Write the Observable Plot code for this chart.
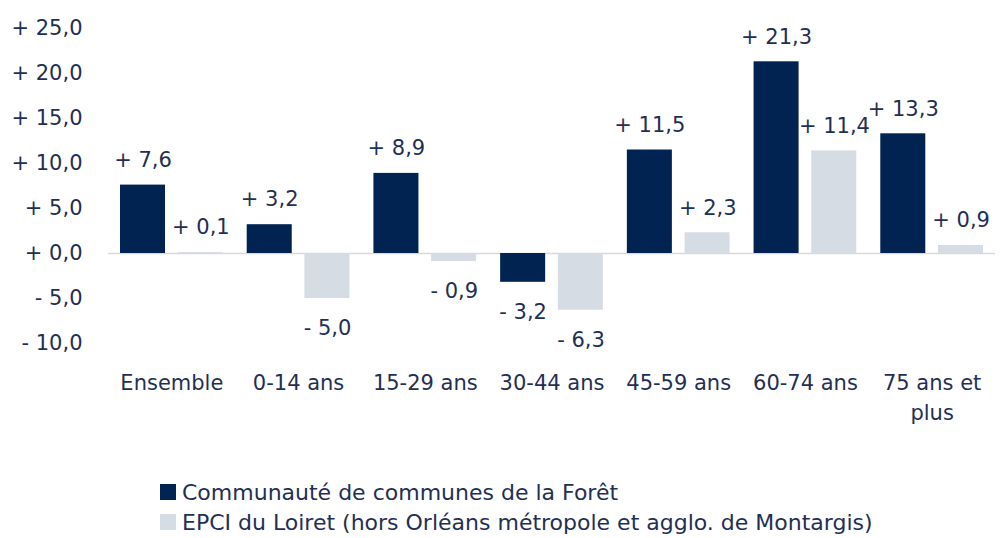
<!DOCTYPE html>
<html><head><meta charset="utf-8">
<script src="https://cdn.jsdelivr.net/npm/d3@7"></script>
<script src="https://cdn.jsdelivr.net/npm/@observablehq/plot@0.6"></script>
<style>
body{margin:0;background:#fff;font-family:"DejaVu Sans",sans-serif;}
#chart{position:relative;width:1003px;height:538px;overflow:hidden;}
.legend{position:absolute;left:160px;top:477px;color:#1f2f55;font-size:22px;}
.item{display:flex;align-items:center;height:30px;white-space:nowrap;}
.sw{width:16px;height:16px;margin-right:6px;flex:none;}
</style></head><body>
<div id="chart"></div>
<script>
const categories = ["Ensemble", "0-14 ans", "15-29 ans", "30-44 ans", "45-59 ans", "60-74 ans", "75 ans et plus"];
const tickLabels = ["Ensemble", "0-14 ans", "15-29 ans", "30-44 ans", "45-59 ans", "60-74 ans", "75 ans et\nplus"];
const seriesNames = ["Communauté de communes de la Forêt", "EPCI du Loiret (hors Orléans métropole et agglo. de Montargis)"];
const valuesCC = [7.6, 3.2, 8.9, -3.2, 11.5, 21.3, 13.3];
const valuesEPCI = [0.1, -5.0, -0.9, -6.3, 2.3, 11.4, 0.9];
const yTicks = [-10, -5, 0, 5, 10, 15, 20, 25];
const colors = ["#002352", "#d6dce4"];
const textColor = "#1f2f55";

const fmt = v => (v < 0 ? "-" : "+") + "\u00a0" + Math.abs(v).toFixed(1).replace(".", ",");

const rowsCC = categories.map((c, i) => ({cat: c, s: seriesNames[0], v: valuesCC[i]}));
const rowsEP = categories.map((c, i) => ({cat: c, s: seriesNames[1], v: valuesEPCI[i]}));

const labelMarks = (rows, dx) => [
  Plot.text(rows.filter(d => d.v >= 0), {x: "cat", y: "v", text: d => fmt(d.v), dx, dy: -25, fontSize: 21, fill: textColor}),
  Plot.text(rows.filter(d => d.v < 0), {x: "cat", y: "v", text: d => fmt(d.v), dx, dy: 30, fontSize: 21, fill: textColor})
];

const plot = Plot.plot({
  width: 1003, height: 470,
  marginLeft: 108, marginRight: 8, marginTop: 28, marginBottom: 127,
  style: {fontFamily: "DejaVu Sans", fontSize: "21px", color: textColor, background: "transparent"},
  x: {domain: categories, padding: 0, round: false, label: null},
  y: {domain: [-10, 25], label: null},
  color: {domain: seriesNames, range: colors},
  marks: [
    Plot.ruleY([0], {stroke: "#d9d9d9", strokeWidth: 1.5}),
    Plot.barY(rowsCC, {x: "cat", y: "v", fill: "s", insetLeft: 12, insetRight: 69.7}),
    Plot.barY(rowsEP, {x: "cat", y: "v", fill: "s", insetLeft: 69.7, insetRight: 12}),
    ...labelMarks(rowsCC, -28.9),
    ...labelMarks(rowsEP, 29),
    Plot.axisY({ticks: yTicks, tickSize: 0, tickPadding: 26, tickFormat: fmt, fontSize: 21, fill: textColor, label: null}),
    Plot.axisX({tickSize: 0, tickPadding: 26, tickFormat: d => tickLabels[categories.indexOf(d)], fontSize: 21, lineHeight: 1.4, fill: textColor, label: null})
  ]
});
const chart = document.getElementById("chart");
chart.appendChild(plot);

const legend = document.createElement("div");
legend.className = "legend";
seriesNames.forEach((name, i) => {
  const item = document.createElement("div");
  item.className = "item";
  const sw = document.createElement("span");
  sw.className = "sw";
  sw.style.background = colors[i];
  const t = document.createElement("span");
  t.textContent = name;
  item.appendChild(sw); item.appendChild(t);
  legend.appendChild(item);
});
chart.appendChild(legend);
</script>
</body></html>
